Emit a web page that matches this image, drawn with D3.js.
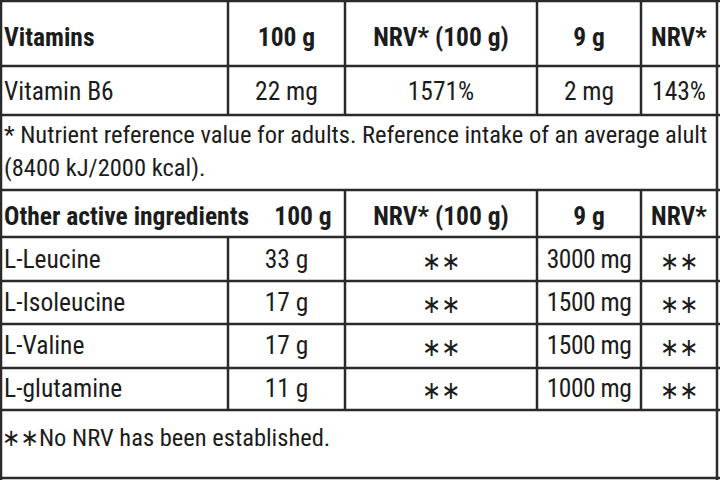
<!DOCTYPE html>
<html><head><meta charset="utf-8">
<script src="https://cdn.jsdelivr.net/npm/d3@7"></script>
<style>body{margin:0;background:#fff}svg{display:block}</style>
</head><body><svg id="c" width="720" height="481"></svg>
<script>
const vitHeader = ["Vitamins","100 g","NRV* (100 g)","9 g","NRV*"];
const vitRows = [["Vitamin B6","22 mg","1571%","2 mg","143%"]];
const note1 = ["* Nutrient reference value for adults. Reference intake of an average alult","(8400 kJ/2000 kcal)."];
const otherHeader = ["Other active ingredients","100 g","NRV* (100 g)","9 g","NRV*"];
const ingredients = ["L-Leucine","L-Isoleucine","L-Valine","L-glutamine"];
const per100 = ["33 g","17 g","17 g","11 g"];
const nrv100 = ["∗∗","∗∗","∗∗","∗∗"];
const per9 = ["3000 mg","1500 mg","1500 mg","1000 mg"];
const nrv9 = ["∗∗","∗∗","∗∗","∗∗"];
const note2 = "∗∗No NRV has been established.";

const svg = d3.select("#c");
const font = "'Liberation Sans Narrow','Roboto Condensed','DejaVu Sans Condensed',sans-serif";
const colX = [1,228,345,537,641,717];
const ink = "#1c1c1c";
const line = (x1,y1,x2,y2)=>svg.append("line").attr("x1",x1).attr("y1",y1).attr("x2",x2).attr("y2",y2).attr("stroke","#2a2a2a").attr("stroke-width",2.5);
const txt = (x,y,s,opt={})=>svg.append("text").attr("x",x).attr("y",y).text(s)
  .attr("font-family",font).attr("font-size",opt.size||25.5).attr("font-weight",opt.bold?"bold":"normal")
  .attr("text-anchor",opt.anchor||"start").attr("fill",ink);

const hy = [1,66,115,190,237,281,324,368,410,478];
hy.forEach(y=>line(0,y,720,y));
line(1,0,1,480); line(717,0,717,480);
const bands = [[1,66,[1,2,3,4]],[66,115,[1,2,3,4]],[190,237,[2,3,4]],[237,410,[1,2,3,4]]];
bands.forEach(([a,b,cols])=>cols.forEach(i=>line(colX[i],a,colX[i],b)));

const center = i=>(colX[i]+colX[i+1])/2;
vitHeader.forEach((s,i)=>txt(i?center(i):4,46,s,{bold:true,anchor:i?"middle":"start"}));
vitRows.forEach((r,k)=>r.forEach((s,i)=>txt(i?center(i):4,100+k*49,s,{anchor:i?"middle":"start"})));
note1.forEach((s,k)=>txt(4,143+k*33,s,{size:24.5}));
otherHeader.forEach((s,i)=>txt(i===0?4:(i===1?303:center(i)),225,s,{bold:true,anchor:i?"middle":"start"}));
const rowY = d3.scaleBand().domain(ingredients).range([237,410]);
ingredients.forEach((n,k)=>{
  const y = rowY(n)+rowY.bandwidth()/2+9;
  txt(4,y,n);
  txt(center(1),y,per100[k],{anchor:"middle"});
  txt(center(2),y+2,nrv100[k],{anchor:"middle"});
  txt(center(3),y,per9[k],{anchor:"middle"}).attr("letter-spacing",-0.5);
  txt(center(4),y+2,nrv9[k],{anchor:"middle"});
});
txt(2,446,note2,{size:24.5});
</script></body></html>
